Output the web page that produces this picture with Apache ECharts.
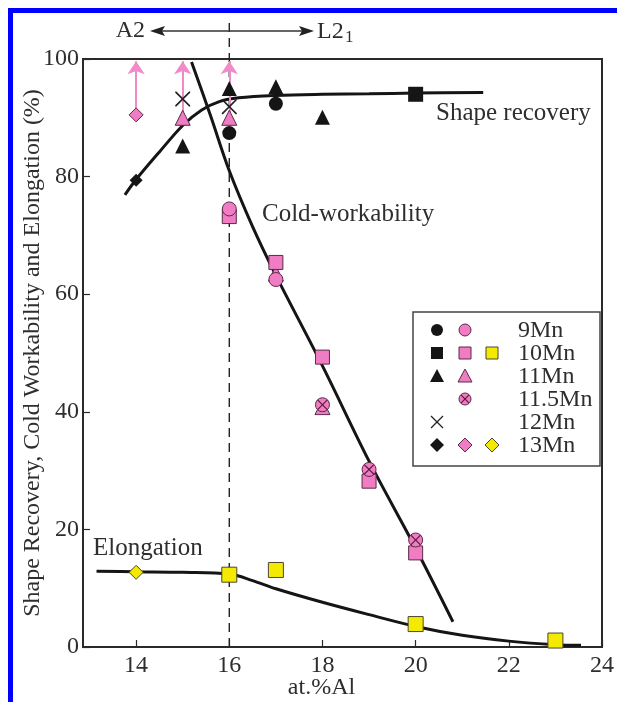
<!DOCTYPE html>
<html><head><meta charset="utf-8">
<script src="https://cdn.jsdelivr.net/npm/echarts@6/dist/echarts.min.js"></script>
<style>html,body{margin:0;padding:0;background:#fff}#c{width:617px;height:702px}</style>
</head><body><div id="c"></div>
<script>
// ---- axis ticks ----
const xTicks = [14, 16, 18, 20, 22, 24];
const yTicks = [0, 20, 40, 60, 80, 100];

// ---- fitted curves ----
const shapeRecoveryCurve = [[13.76,76.9],[14,79.5],[14.5,84.2],[15,88.7],[15.4,91.3],[15.8,92.8],[16.2,93.4],[17,93.8],[18,94.0],[19,94.1],[20,94.2],[21.45,94.3]];
const coldWorkCurve = [[15.19,99.5],[15.6,90.3],[16,81.0],[16.5,71.5],[17,63.2],[18,47.8],[19,31.6],[20,16.8],[20.8,4.3]];
const elongationCurve = [[13.15,12.9],[14,12.8],[15,12.7],[16,12.4],[16.5,11.3],[17,9.9],[18,7.6],[19,5.5],[20,3.5],[21,2.0],[22,1.0],[23,0.4],[23.55,0.3]];

// ---- shape recovery (black) ----
const sr9Mn  = [[16,87.4],[17,92.4]];
const sr10Mn = [[20,94.0]];
const sr11Mn = [[15,85.2],[16,95.0],[17,95.3],[18,90.1]];
const sr12Mn = [[15,93.2],[16,91.9]];
const sr13Mn = [[14,79.4]];

// ---- cold workability (pink) ----
const cw9Mn   = [[16,74.5],[17,62.5]];
const cw10Mn  = [[16,73.2],[17,65.4],[18,49.3],[19,28.2],[20,16.0]];
const cw11Mn  = [[15,90.0],[16,90.0],[17,63.5],[18,40.8]];
const cw115Mn = [[18,41.2],[19,30.2],[20,18.2]];
const cw13Mn  = [[14,90.5]];
// arrows: cold workability exceeds the plotted value
const cwArrowFrom = [[14,90.5],[15,90.0],[16,90.0]];
const cwArrowTo   = [[14,99.6],[15,99.6],[16,99.6]];

// ---- elongation (yellow) ----
const el10Mn = [[16,12.3],[17,13.1],[20,3.9],[23,1.1]];
const el13Mn = [[14,12.7]];

const SERIF = "'Liberation Serif','DejaVu Serif',serif";
const TXT = '#2e2e2e';
const BLACK = '#151515';
const PINK = '#f07cc4';
const PINK_BORDER = '#5a2a48';
const YELLOW = '#f4ea00';
const YELLOW_BORDER = '#4a4630';
const XPATH = 'path://M0,0 L1.6,0 L10,8.4 L18.4,0 L20,0 L20,1.6 L11.6,10 L20,18.4 L20,20 L18.4,20 L10,11.6 L1.6,20 L0,20 L0,18.4 L8.4,10 L0,1.6 Z';

function curve(data){
  return {type:'line', data, smooth:0.35, showSymbol:false, symbol:'none', silent:true,
    lineStyle:{color:BLACK, width:3}, z:2};
}
function pts(data, symbol, size, color, border, bw){
  return {type:'scatter', data, symbol, symbolSize:size, silent:true, z:4,
    itemStyle:{color, borderColor:border||color, borderWidth:bw||0, opacity:1}};
}

const chart = echarts.init(document.getElementById('c'), null, {renderer:'canvas'});
const option = {
  animation:false,
  backgroundColor:'#fff',
  grid:{left:83, right:15, top:59, bottom:55, containLabel:false, outerBoundsMode:'none',
    show:true, borderColor:'#2a2a2a', borderWidth:2, backgroundColor:'transparent'},
  xAxis:{type:'value', min:12.86, max:24,
    name:'at.%Al', nameLocation:'middle', nameGap:29, nameMoveOverlap:false,
    nameTextStyle:{fontFamily:SERIF, fontSize:24, color:TXT, padding:[0,42,0,0]},
    axisLine:{show:true, onZero:false, lineStyle:{color:'#2a2a2a', width:2}},
    axisTick:{show:true, inside:true, length:7, customValues:xTicks, lineStyle:{color:'#2a2a2a', width:1.2}},
    axisLabel:{customValues:xTicks, fontFamily:SERIF, fontSize:24, color:TXT, margin:7},
    splitLine:{show:false}},
  yAxis:{type:'value', min:0, max:100, interval:20,
    name:'Shape Recovery, Cold Workability and Elongation (%)', nameLocation:'middle', nameGap:38, nameMoveOverlap:false,
    nameTextStyle:{fontFamily:SERIF, fontSize:24, color:TXT},
    axisLine:{show:true, lineStyle:{color:'#2a2a2a', width:2}},
    axisTick:{show:true, inside:true, length:7, lineStyle:{color:'#2a2a2a', width:1.2}},
    axisLabel:{fontFamily:SERIF, fontSize:24, color:TXT, margin:4},
    splitLine:{show:false}},
  series:[
    curve(shapeRecoveryCurve),
    curve(coldWorkCurve),
    curve(elongationCurve),
    {type:'lines', coordinateSystem:'cartesian2d', silent:true, z:3,
      symbol:['none','arrow'], symbolSize:[11,13],
      lineStyle:{color:'#f08ac8', width:2, opacity:1},
      data: cwArrowFrom.map((p,i)=>({coords:[p, cwArrowTo[i]]}))},
    // shape recovery
    pts(sr13Mn,'diamond',13,BLACK),
    pts(sr9Mn,'circle',14,BLACK),
    pts(sr10Mn,'rect',15,BLACK),
    pts(sr11Mn,'triangle',15,BLACK),
    pts(sr12Mn,XPATH,15,'#222'),
    // cold workability
    pts(cw13Mn,'diamond',14,PINK,PINK_BORDER,1),
    pts(cw11Mn,'triangle',15,PINK,PINK_BORDER,1),
    pts(cw10Mn,'rect',14,PINK,PINK_BORDER,1),
    pts(cw9Mn,'circle',14,PINK,PINK_BORDER,1),
    pts(cw115Mn,'circle',14,PINK,PINK_BORDER,1),
    pts(cw115Mn,XPATH,10,'#5a1838'),
    // elongation
    pts(el13Mn,'diamond',14,YELLOW,YELLOW_BORDER,1),
    pts(el10Mn,'rect',15,YELLOW,YELLOW_BORDER,1)
  ]
};
chart.setOption(option);

// ---------- annotations & legend ----------
const g = [];
// blue frame
g.push({type:'rect', shape:{x:8,y:8,width:5,height:694}, style:{fill:'#0000ff'}, z:100});
g.push({type:'rect', shape:{x:8,y:8,width:609,height:5}, style:{fill:'#0000ff'}, z:100});

// dashed boundary at 16 at.%Al
const pBot = chart.convertToPixel({gridIndex:0},[16,0]);
g.push({type:'line', shape:{x1:pBot[0], y1:pBot[1], x2:pBot[0], y2:22},
  style:{stroke:'#222', lineWidth:1.4, lineDash:[9,6]}, z:1});

// A2 <-> L2_1 arrow
const ay = 31;
g.push({type:'line', shape:{x1:156,y1:ay,x2:308,y2:ay}, style:{stroke:'#333', lineWidth:1.4}, z:10});
g.push({type:'polygon', shape:{points:[[150,ay],[165,ay-5],[162,ay],[165,ay+5]]}, style:{fill:'#222'}, z:10});
g.push({type:'polygon', shape:{points:[[314,ay],[299,ay-5],[302,ay],[299,ay+5]]}, style:{fill:'#222'}, z:10});
g.push({type:'text', x:145, y:ay, style:{text:'A2', fontFamily:SERIF, fontSize:24, fill:TXT, align:'right', verticalAlign:'middle'}, z:10});
g.push({type:'text', x:317, y:ay+1, style:{text:'L2', fontFamily:SERIF, fontSize:24, fill:TXT, align:'left', verticalAlign:'middle'}, z:10});
g.push({type:'text', x:345, y:ay+7, style:{text:'1', fontFamily:SERIF, fontSize:17, fill:TXT, align:'left', verticalAlign:'middle'}, z:10});

// curve labels
const lab = (t,x,y)=>({type:'text', x, y, style:{text:t, fontFamily:SERIF, fontSize:25, fill:TXT, align:'left', verticalAlign:'middle'}, z:10});
g.push(lab('Shape recovery',436,113));
g.push(lab('Cold-workability',262,214));
g.push(lab('Elongation',93,548));

// legend box
g.push({type:'rect', shape:{x:413,y:312,width:187,height:154}, style:{fill:'#fff', stroke:'#444', lineWidth:1.5}, z:20});
const rows = [330,353,376,399,422,445];
const cols = [437,465,492];
const names = ['9Mn','10Mn','11Mn','11.5Mn','12Mn','13Mn'];
rows.forEach((y,i)=>g.push({type:'text', x:518, y:y+1, style:{text:names[i], fontFamily:SERIF, fontSize:24, fill:TXT, align:'left', verticalAlign:'middle'}, z:21}));
const circ=(x,y,f,s)=>({type:'circle', shape:{cx:x,cy:y,r:6}, style:{fill:f, stroke:s||f, lineWidth:s?1:0}, z:21});
const sq=(x,y,f,s)=>({type:'rect', shape:{x:x-6,y:y-6,width:12,height:12}, style:{fill:f, stroke:s||f, lineWidth:s?1:0}, z:21});
const tri=(x,y,f,s)=>({type:'polygon', shape:{points:[[x,y-7],[x+7,y+6],[x-7,y+6]]}, style:{fill:f, stroke:s||f, lineWidth:s?1:0}, z:21});
const dia=(x,y,f,s)=>({type:'polygon', shape:{points:[[x,y-7],[x+7,y],[x,y+7],[x-7,y]]}, style:{fill:f, stroke:s||f, lineWidth:s?1:0}, z:21});
const cross=(x,y,r,c,w)=>[
  {type:'line', shape:{x1:x-r,y1:y-r,x2:x+r,y2:y+r}, style:{stroke:c, lineWidth:w}, z:22},
  {type:'line', shape:{x1:x-r,y1:y+r,x2:x+r,y2:y-r}, style:{stroke:c, lineWidth:w}, z:22}];
g.push(circ(cols[0],rows[0],BLACK), circ(cols[1],rows[0],PINK,PINK_BORDER));
g.push(sq(cols[0],rows[1],BLACK), sq(cols[1],rows[1],PINK,PINK_BORDER), sq(cols[2],rows[1],YELLOW,YELLOW_BORDER));
g.push(tri(cols[0],rows[2],BLACK), tri(cols[1],rows[2],PINK,PINK_BORDER));
g.push(circ(cols[1],rows[3],PINK,PINK_BORDER), ...cross(cols[1],rows[3],3.8,'#5a1838',1.2));
g.push(...cross(cols[0],rows[4],6,'#222',1.3));
g.push(dia(cols[0],rows[5],BLACK), dia(cols[1],rows[5],PINK,PINK_BORDER), dia(cols[2],rows[5],YELLOW,YELLOW_BORDER));

chart.setOption({graphic:g});
</script>
</body></html>
